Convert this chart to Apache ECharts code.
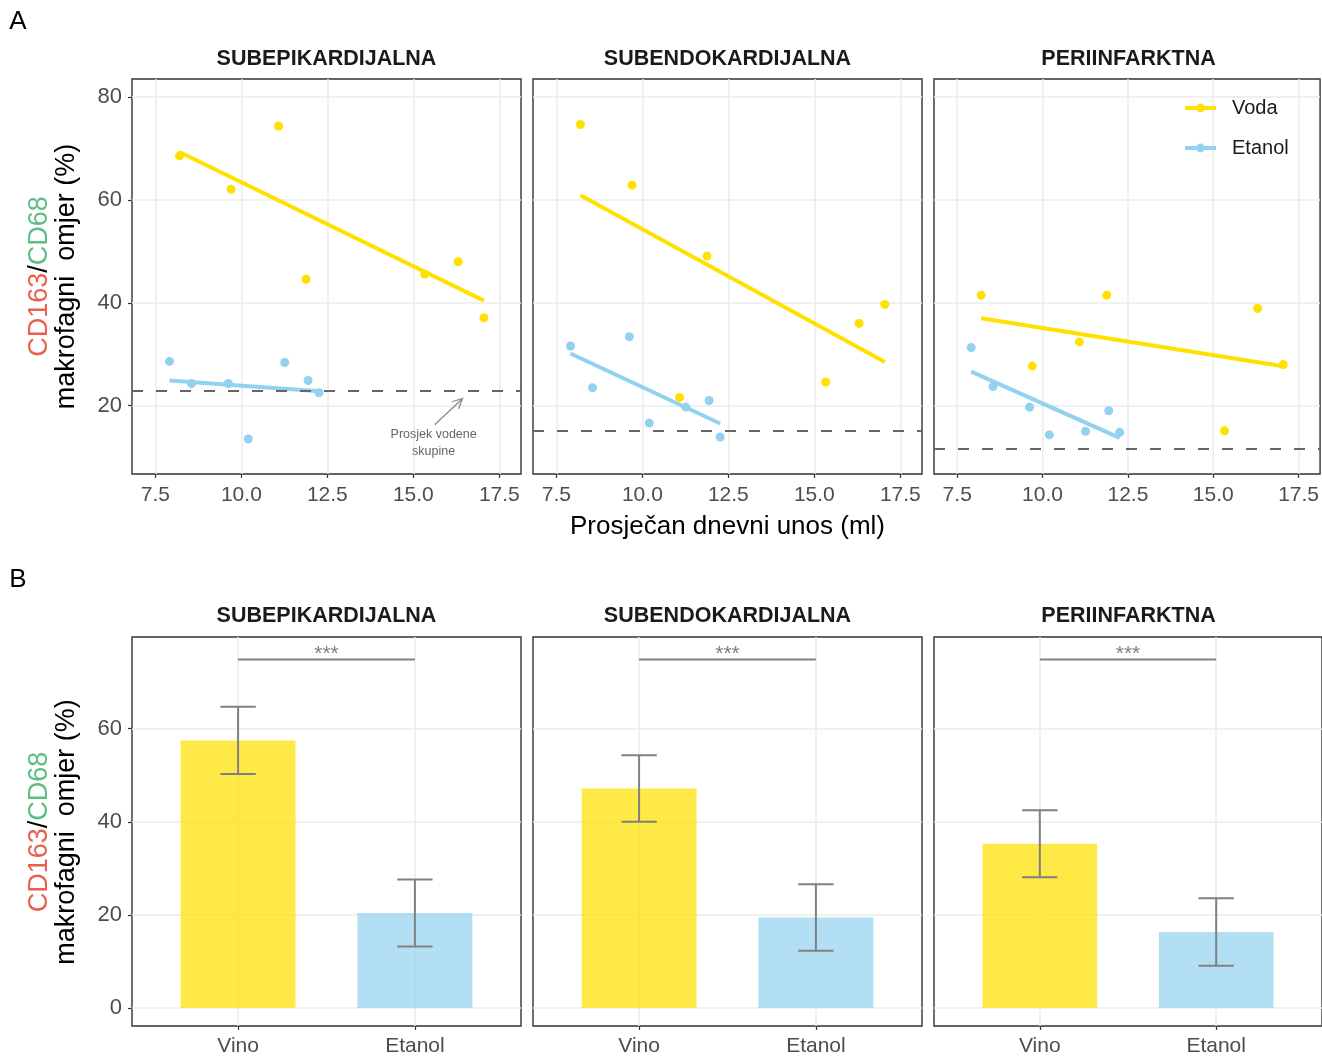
<!DOCTYPE html>
<html><head><meta charset="utf-8">
<script src="https://cdn.jsdelivr.net/npm/echarts@6/dist/echarts.min.js"></script>
<style>html,body{margin:0;padding:0;background:#fff}#c{width:1322px;height:1057px}</style>
</head><body><div id="c"></div>
<script>
// ---------------- data ----------------
const regions = ['SUBEPIKARDIJALNA', 'SUBENDOKARDIJALNA', 'PERIINFARKTNA'];
const groupNames = ['Voda', 'Etanol'];
const vodaIntake = [8.2, 9.7, 11.08, 11.88, 15.33, 16.3, 17.05];
const etanolIntake = [7.91, 8.55, 9.62, 10.2, 11.26, 11.94, 12.26];
const vodaRatio = [
  [68.6, 62.1, 74.4, 44.6, 45.6, 48.0, 37.1],
  [74.7, 62.9, 21.6, 49.1, 24.6, 36.0, 39.7],
  [41.5, 27.7, 32.4, 41.5, 15.1, 38.9, 28.0]
];
const etanolRatio = [
  [28.6, 24.3, 24.3, 13.5, 28.4, 24.9, 22.5],
  [31.6, 23.5, 33.4, 16.6, 19.7, 21.0, 13.9],
  [31.3, 23.7, 19.7, 14.3, 15.0, 19.0, 14.8]
];
const waterMean = [22.9, 15.1, 11.7];
const xTicksA = [7.5, 10, 12.5, 15, 17.5];
const yTicksA = [20, 40, 60, 80];

const barGroups = ['Vino', 'Etanol'];
const vinoMean = [57.5, 47.15, 35.3];
const vinoErr = [7.2, 7.15, 7.2];
const etanolMean = [20.4, 19.45, 16.35];
const etanolErr = [7.2, 7.15, 7.25];
const sigLabel = ['***', '***', '***'];
const sigLevel = [74.9, 74.9, 74.9];
const yTicksB = [0, 20, 40, 60];

// ---------------- styling / layout ----------------
const FONT = "'Liberation Sans', Arial, Helvetica, sans-serif";
const YEL = '#FFE100', BLU = '#92D1EF';
const YEL_BAR = 'rgba(255,225,0,0.72)', BLU_BAR = 'rgba(146,209,239,0.70)';
const facetLeft = [132, 533, 934], facetW = 389;
const topA = 79, hA = 395, topB = 637, hB = 390;
const TICK_COL = '#4D4D4D', GRID_COL = '#EBEBEB', BORDER = '#333333';

function ols(xs, ys) {
  const n = xs.length;
  const mx = xs.reduce((a, b) => a + b, 0) / n, my = ys.reduce((a, b) => a + b, 0) / n;
  let sxy = 0, sxx = 0;
  for (let i = 0; i < n; i++) { sxy += (xs[i] - mx) * (ys[i] - my); sxx += (xs[i] - mx) ** 2; }
  const b = sxy / sxx; return { a: my - b * mx, b };
}
function fitLine(xs, ys) {
  const f = ols(xs, ys); const lo = Math.min(...xs), hi = Math.max(...xs);
  return [[lo, f.a + f.b * lo], [hi, f.a + f.b * hi]];
}

const grid = [], xAxis = [], yAxis = [], series = [];
function axisCommon() {
  return {
    axisLine: { show: false, onZero: false },
    splitLine: { show: true, lineStyle: { color: GRID_COL, width: 1.5 } },
  };
}
for (let i = 0; i < 3; i++) {
  grid.push({ left: facetLeft[i], top: topA, width: facetW, height: hA, show: true, borderColor: BORDER, borderWidth: 1.4, backgroundColor: 'transparent' });
  xAxis.push(Object.assign(axisCommon(), {
    type: 'value', gridIndex: i, min: 6.82, max: 18.13,
    axisTick: { show: true, length: 4, lineStyle: { color: BORDER, width: 1.2 }, customValues: xTicksA },
    axisLabel: { show: true, customValues: xTicksA, formatter: v => v.toFixed(1), color: TICK_COL, fontSize: 21, fontFamily: FONT, margin: 11 }
  }));
  yAxis.push(Object.assign(axisCommon(), {
    type: 'value', gridIndex: i, min: 6.7, max: 83.55,
    axisTick: { show: i === 0, length: 4, lineStyle: { color: BORDER, width: 1.2 }, customValues: yTicksA },
    axisLabel: { show: i === 0, customValues: yTicksA, color: TICK_COL, fontSize: 22, fontFamily: FONT, margin: 10 }
  }));
}
for (let i = 0; i < 3; i++) {
  grid.push({ left: facetLeft[i], top: topB, width: facetW, height: hB, show: true, borderColor: BORDER, borderWidth: 1.4, backgroundColor: 'transparent' });
  xAxis.push(Object.assign(axisCommon(), {
    type: 'value', gridIndex: 3 + i, min: 0.4, max: 2.6,
    axisTick: { show: true, length: 4, lineStyle: { color: BORDER, width: 1.2 }, customValues: [1, 2] },
    axisLabel: { show: true, customValues: [1, 2], formatter: v => barGroups[Math.round(v) - 1], color: TICK_COL, fontSize: 21, fontFamily: FONT, margin: 10 }
  }));
  yAxis.push(Object.assign(axisCommon(), {
    type: 'value', gridIndex: 3 + i, min: -3.86, max: 79.71,
    axisTick: { show: i === 0, length: 4, lineStyle: { color: BORDER, width: 1.2 }, customValues: yTicksB },
    axisLabel: { show: i === 0, customValues: yTicksB, color: TICK_COL, fontSize: 22, fontFamily: FONT, margin: 10 }
  }));
}

// panel A series: fit lines first (legend icons), then points
for (let i = 0; i < 3; i++) {
  series.push({
    name: 'Voda', type: 'line', xAxisIndex: i, yAxisIndex: i, silent: true, z: 3,
    data: fitLine(vodaIntake, vodaRatio[i]), symbol: 'circle', symbolSize: 9, showSymbol: false,
    lineStyle: { color: YEL, width: 4 }, itemStyle: { color: YEL }
  });
  series.push({
    name: 'Etanol', type: 'line', xAxisIndex: i, yAxisIndex: i, silent: true, z: 3,
    data: fitLine(etanolIntake, etanolRatio[i]), symbol: 'circle', symbolSize: 9, showSymbol: false,
    lineStyle: { color: BLU, width: 4 }, itemStyle: { color: BLU }
  });
}
for (let i = 0; i < 3; i++) {
  series.push({
    name: 'Voda', type: 'scatter', xAxisIndex: i, yAxisIndex: i, silent: true, z: 4,
    symbolSize: 9, itemStyle: { color: YEL, opacity: 1 },
    data: vodaIntake.map((x, k) => [x, vodaRatio[i][k]])
  });
  series.push({
    name: 'Etanol', type: 'scatter', xAxisIndex: i, yAxisIndex: i, silent: true, z: 4,
    symbolSize: 9, itemStyle: { color: BLU, opacity: 1 },
    data: etanolIntake.map((x, k) => [x, etanolRatio[i][k]]),
    markLine: {
      silent: true, symbol: 'none', label: { show: false }, animation: false,
      lineStyle: { color: '#666666', width: 1.8, type: [11, 13] },
      data: [{ yAxis: waterMean[i] }]
    }
  });
}
// annotation (facet 1)
series.push({
  type: 'custom', xAxisIndex: 0, yAxisIndex: 0, silent: true, z: 6,
  data: [[15.59, 12.8]],
  renderItem: (params, api) => {
    const c = api.coord([api.value(0), api.value(1)]);
    const s = api.coord([15.62, 16.3]), t = api.coord([16.43, 21.4]);
    const dx = t[0] - s[0], dy = t[1] - s[1], len = Math.hypot(dx, dy);
    const ux = dx / len, uy = dy / len, L = 11, ang = 0.45;
    const head = a => [t[0] - L * (ux * Math.cos(a) - uy * Math.sin(a)), t[1] - L * (ux * Math.sin(a) + uy * Math.cos(a))];
    return {
      type: 'group', children: [
        { type: 'line', shape: { x1: s[0], y1: s[1], x2: t[0], y2: t[1] }, style: { stroke: '#8a8a8a', lineWidth: 1.3 } },
        { type: 'polyline', shape: { points: [head(ang), t, head(-ang)] }, style: { stroke: '#8a8a8a', lineWidth: 1.3, fill: null } },
        { type: 'text', x: c[0], y: c[1], style: { text: 'Prosjek vodene\nskupine', fill: '#666666', fontSize: 12.5, fontFamily: FONT, align: 'center', verticalAlign: 'middle', lineHeight: 17 } }
      ]
    };
  }
});

// panel B series
for (let i = 0; i < 3; i++) {
  const g = 3 + i;
  const rows = [[1, vinoMean[i], vinoErr[i], 0], [2, etanolMean[i], etanolErr[i], 1]];
  series.push({
    type: 'custom', xAxisIndex: g, yAxisIndex: g, silent: true, z: 2,
    data: rows,
    renderItem: (params, api) => {
      const x = api.value(0), y = api.value(1), k = api.value(3);
      const p0 = api.coord([x - 0.325, y]), p1 = api.coord([x + 0.325, 0]);
      return { type: 'rect', shape: { x: p0[0], y: p0[1], width: p1[0] - p0[0], height: p1[1] - p0[1] }, style: { fill: k === 0 ? YEL_BAR : BLU_BAR } };
    }
  });
  series.push({
    type: 'custom', xAxisIndex: g, yAxisIndex: g, silent: true, z: 4,
    data: rows,
    renderItem: (params, api) => {
      const x = api.value(0), y = api.value(1), e = api.value(2);
      const top = api.coord([x, y + e]), bot = api.coord([x, y - e]);
      const cl = api.coord([x - 0.1, y + e]), cr = api.coord([x + 0.1, y - e]);
      const st = { stroke: '#808080', lineWidth: 2 };
      return {
        type: 'group', children: [
          { type: 'line', shape: { x1: top[0], y1: top[1], x2: bot[0], y2: bot[1] }, style: st },
          { type: 'line', shape: { x1: cl[0], y1: top[1], x2: cr[0], y2: top[1] }, style: st },
          { type: 'line', shape: { x1: cl[0], y1: bot[1], x2: cr[0], y2: bot[1] }, style: st }
        ]
      };
    }
  });
  series.push({
    type: 'custom', xAxisIndex: g, yAxisIndex: g, silent: true, z: 4,
    data: [[1, 2, sigLevel[i]]],
    renderItem: (params, api) => {
      const a = api.coord([api.value(0), api.value(2)]), b = api.coord([api.value(1), api.value(2)]);
      return {
        type: 'group', children: [
          { type: 'line', shape: { x1: a[0], y1: a[1], x2: b[0], y2: b[1] }, style: { stroke: '#808080', lineWidth: 2 } },
          { type: 'text', x: (a[0] + b[0]) / 2, y: a[1] - 5, style: { text: sigLabel[i], fill: '#808080', fontSize: 21, fontFamily: FONT, align: 'center', verticalAlign: 'middle' } }
        ]
      };
    }
  });
}

// ---------------- text graphics ----------------
const graphic = [];
function txt(x, y, text, size, weight, color) {
  graphic.push({ type: 'text', x, y, silent: true, style: { text, fontSize: size, fontWeight: weight || 'normal', fontFamily: FONT, fill: color || '#1A1A1A', align: 'center', verticalAlign: 'middle' } });
}
txt(18, 22, 'A', 26, 'normal', '#000');
txt(18, 580, 'B', 26, 'normal', '#000');
for (let i = 0; i < 3; i++) {
  txt(facetLeft[i] + facetW / 2, 59, regions[i], 21.5, 'bold', '#1A1A1A');
  txt(facetLeft[i] + facetW / 2, 616, regions[i], 21.5, 'bold', '#1A1A1A');
}
txt(facetLeft[1] + facetW / 2, 527, 'Prosječan dnevni unos (ml)', 26, 'normal', '#000');
function yTitle(cy) {
  graphic.push({
    type: 'text', x: 53, y: cy, rotation: Math.PI / 2, silent: true,
    style: {
      text: '{r|CD163}{k|/}{g|CD68}\n{k|makrofagni  omjer (%)}',
      align: 'center', verticalAlign: 'middle', fontSize: 27, fontFamily: FONT, lineHeight: 27,
      rich: {
        r: { fill: '#E9604D', fontSize: 27, fontFamily: FONT, lineHeight: 27 },
        g: { fill: '#5CBD86', fontSize: 27, fontFamily: FONT, lineHeight: 27 },
        k: { fill: '#000000', fontSize: 27, fontFamily: FONT, lineHeight: 27 }
      }
    }
  });
}
yTitle(topA + hA / 2);
yTitle(topB + hB / 2);

const chart = echarts.init(document.getElementById('c'), null, { renderer: 'canvas' });
chart.setOption({
  animation: false,
  backgroundColor: '#ffffff',
  grid, xAxis, yAxis, series, graphic,
  legend: {
    data: groupNames, orient: 'vertical', left: 1178, top: 93, itemWidth: 31, itemHeight: 11, itemGap: 20,
    selectedMode: false,
    lineStyle: { width: 4 },
    textStyle: { fontSize: 20, color: '#1A1A1A', fontFamily: FONT, padding: [0, 0, 0, 11], lineHeight: 20 }
  }
});
</script></body></html>
